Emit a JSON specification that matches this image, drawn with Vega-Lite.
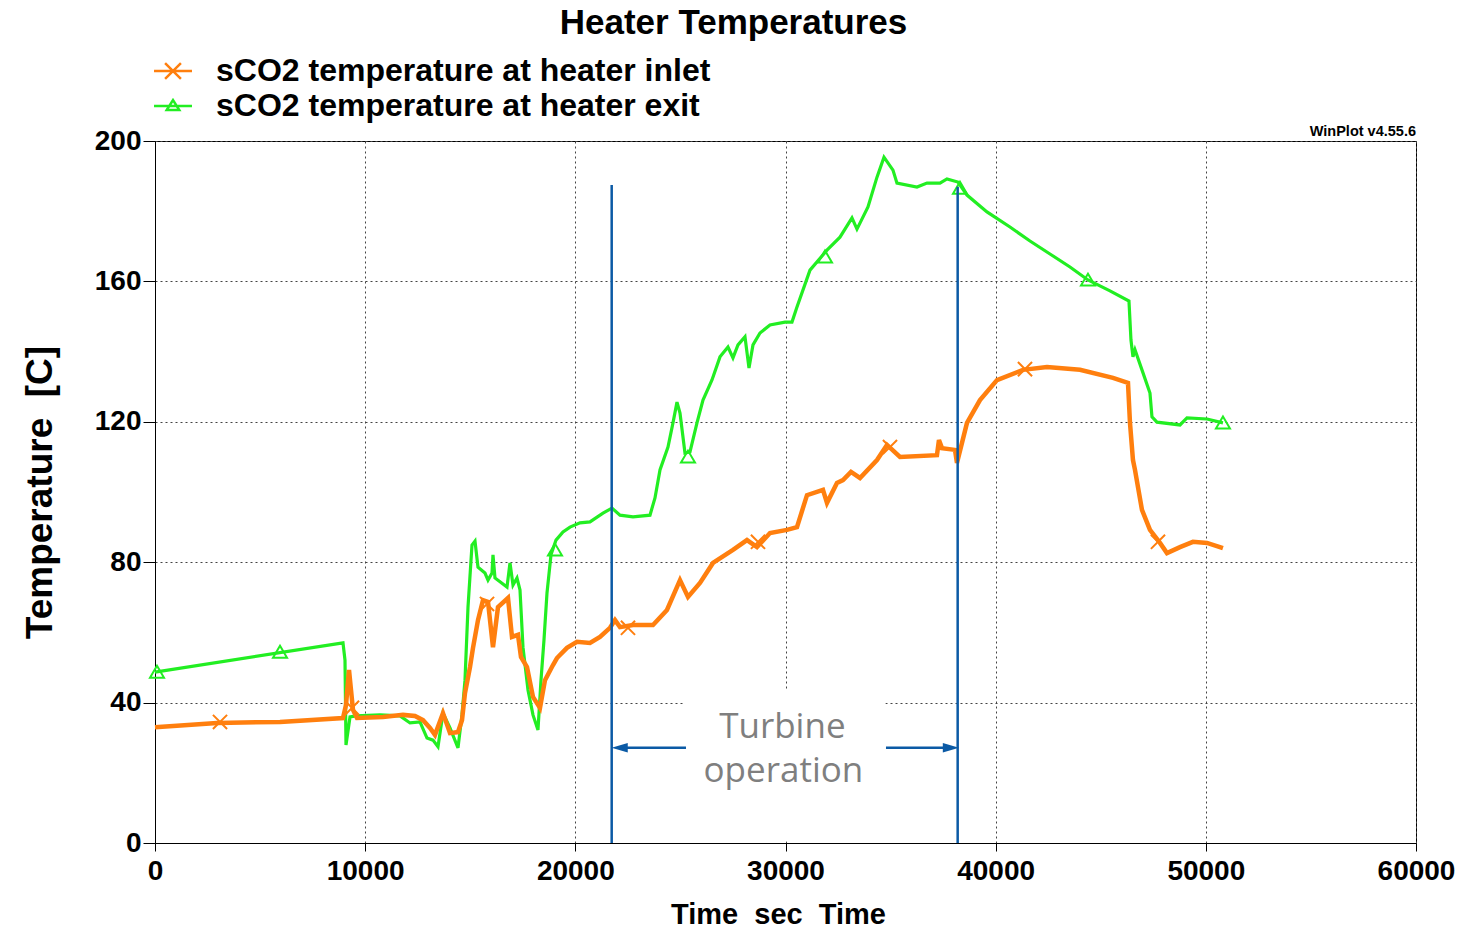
{
"$schema": "https://vega.github.io/schema/vega-lite/v6.json",
"width": 1261, "height": 702,
"autosize": {"type": "none"},
"padding": {"left": 155, "top": 141, "right": 67, "bottom": 85},
"background": "white",
"title": {"text": "Heater Temperatures", "font": "Liberation Sans", "fontSize": 35, "fontWeight": "bold", "color": "black", "anchor": "middle", "frame": "group", "dx": -52, "dy": -8},
"datasets": {
"temps": [
{"s":"sCO2 temperature at heater exit","t":0,"v":48.7},{"s":"sCO2 temperature at heater exit","t":8945,"v":57.0},{"s":"sCO2 temperature at heater exit","t":9040,"v":52.1},{"s":"sCO2 temperature at heater exit","t":9088,"v":27.9},{"s":"sCO2 temperature at heater exit","t":9278,"v":35.9},{"s":"sCO2 temperature at heater exit","t":9564,"v":36.2},{"s":"sCO2 temperature at heater exit","t":10706,"v":36.5},{"s":"sCO2 temperature at heater exit","t":11657,"v":36.2},{"s":"sCO2 temperature at heater exit","t":12133,"v":34.2},{"s":"sCO2 temperature at heater exit","t":12609,"v":34.5},{"s":"sCO2 temperature at heater exit","t":12942,"v":29.9},{"s":"sCO2 temperature at heater exit","t":13227,"v":29.3},{"s":"sCO2 temperature at heater exit","t":13465,"v":27.4},{"s":"sCO2 temperature at heater exit","t":13703,"v":37.0},{"s":"sCO2 temperature at heater exit","t":14036,"v":32.8},{"s":"sCO2 temperature at heater exit","t":14417,"v":27.1},{"s":"sCO2 temperature at heater exit","t":14607,"v":36.5},{"s":"sCO2 temperature at heater exit","t":14750,"v":46.4},{"s":"sCO2 temperature at heater exit","t":14893,"v":67.2},{"s":"sCO2 temperature at heater exit","t":15083,"v":84.9},{"s":"sCO2 temperature at heater exit","t":15226,"v":86.0},{"s":"sCO2 temperature at heater exit","t":15368,"v":78.6},{"s":"sCO2 temperature at heater exit","t":15701,"v":76.9},{"s":"sCO2 temperature at heater exit","t":15845,"v":74.9},{"s":"sCO2 temperature at heater exit","t":16035,"v":76.9},{"s":"sCO2 temperature at heater exit","t":16082,"v":82.1},{"s":"sCO2 temperature at heater exit","t":16177,"v":75.5},{"s":"sCO2 temperature at heater exit","t":16748,"v":72.9},{"s":"sCO2 temperature at heater exit","t":16891,"v":79.8},{"s":"sCO2 temperature at heater exit","t":17034,"v":73.5},{"s":"sCO2 temperature at heater exit","t":17224,"v":75.5},{"s":"sCO2 temperature at heater exit","t":17367,"v":72.1},{"s":"sCO2 temperature at heater exit","t":17509,"v":55.8},{"s":"sCO2 temperature at heater exit","t":17747,"v":43.6},{"s":"sCO2 temperature at heater exit","t":17985,"v":36.5},{"s":"sCO2 temperature at heater exit","t":18223,"v":32.2},{"s":"sCO2 temperature at heater exit","t":18366,"v":46.4},{"s":"sCO2 temperature at heater exit","t":18508,"v":57.8},{"s":"sCO2 temperature at heater exit","t":18651,"v":71.2},{"s":"sCO2 temperature at heater exit","t":18842,"v":82.1},{"s":"sCO2 temperature at heater exit","t":19080,"v":86.3},{"s":"sCO2 temperature at heater exit","t":19413,"v":88.6},{"s":"sCO2 temperature at heater exit","t":19746,"v":90.0},{"s":"sCO2 temperature at heater exit","t":20222,"v":91.2},{"s":"sCO2 temperature at heater exit","t":20697,"v":91.5},{"s":"sCO2 temperature at heater exit","t":21316,"v":94.0},{"s":"sCO2 temperature at heater exit","t":21744,"v":95.4},{"s":"sCO2 temperature at heater exit","t":22125,"v":93.4},{"s":"sCO2 temperature at heater exit","t":22743,"v":92.9},{"s":"sCO2 temperature at heater exit","t":23552,"v":93.4},{"s":"sCO2 temperature at heater exit","t":23790,"v":98.3},{"s":"sCO2 temperature at heater exit","t":24028,"v":106.3},{"s":"sCO2 temperature at heater exit","t":24409,"v":112.8},{"s":"sCO2 temperature at heater exit","t":24646,"v":119.7},{"s":"sCO2 temperature at heater exit","t":24837,"v":125.6},{"s":"sCO2 temperature at heater exit","t":24980,"v":122.5},{"s":"sCO2 temperature at heater exit","t":25217,"v":111.1},{"s":"sCO2 temperature at heater exit","t":25455,"v":111.4},{"s":"sCO2 temperature at heater exit","t":25788,"v":119.7},{"s":"sCO2 temperature at heater exit","t":26074,"v":126.2},{"s":"sCO2 temperature at heater exit","t":26502,"v":131.9},{"s":"sCO2 temperature at heater exit","t":26883,"v":138.5},{"s":"sCO2 temperature at heater exit","t":27263,"v":141.3},{"s":"sCO2 temperature at heater exit","t":27501,"v":138.2},{"s":"sCO2 temperature at heater exit","t":27739,"v":141.9},{"s":"sCO2 temperature at heater exit","t":28072,"v":144.2},{"s":"sCO2 temperature at heater exit","t":28263,"v":135.3},{"s":"sCO2 temperature at heater exit","t":28453,"v":141.9},{"s":"sCO2 temperature at heater exit","t":28786,"v":145.3},{"s":"sCO2 temperature at heater exit","t":29262,"v":147.6},{"s":"sCO2 temperature at heater exit","t":29975,"v":148.4},{"s":"sCO2 temperature at heater exit","t":30308,"v":148.4},{"s":"sCO2 temperature at heater exit","t":30546,"v":152.7},{"s":"sCO2 temperature at heater exit","t":31165,"v":163.2},{"s":"sCO2 temperature at heater exit","t":31974,"v":168.9},{"s":"sCO2 temperature at heater exit","t":32592,"v":172.6},{"s":"sCO2 temperature at heater exit","t":33163,"v":178.1},{"s":"sCO2 temperature at heater exit","t":33401,"v":174.9},{"s":"sCO2 temperature at heater exit","t":33925,"v":181.2},{"s":"sCO2 temperature at heater exit","t":34353,"v":189.7},{"s":"sCO2 temperature at heater exit","t":34686,"v":195.4},{"s":"sCO2 temperature at heater exit","t":35114,"v":191.7},{"s":"sCO2 temperature at heater exit","t":35304,"v":188.0},{"s":"sCO2 temperature at heater exit","t":36256,"v":186.9},{"s":"sCO2 temperature at heater exit","t":36732,"v":188.0},{"s":"sCO2 temperature at heater exit","t":37350,"v":188.0},{"s":"sCO2 temperature at heater exit","t":37683,"v":189.2},{"s":"sCO2 temperature at heater exit","t":38207,"v":188.3},{"s":"sCO2 temperature at heater exit","t":38635,"v":184.6},{"s":"sCO2 temperature at heater exit","t":39587,"v":179.8},{"s":"sCO2 temperature at heater exit","t":40681,"v":175.5},{"s":"sCO2 temperature at heater exit","t":41633,"v":171.5},{"s":"sCO2 temperature at heater exit","t":42584,"v":167.8},{"s":"sCO2 temperature at heater exit","t":43536,"v":164.1},{"s":"sCO2 temperature at heater exit","t":44392,"v":160.4},{"s":"sCO2 temperature at heater exit","t":45439,"v":157.3},{"s":"sCO2 temperature at heater exit","t":46343,"v":154.4},{"s":"sCO2 temperature at heater exit","t":46438,"v":143.3},{"s":"sCO2 temperature at heater exit","t":46533,"v":138.5},{"s":"sCO2 temperature at heater exit","t":46629,"v":140.5},{"s":"sCO2 temperature at heater exit","t":46961,"v":134.8},{"s":"sCO2 temperature at heater exit","t":47342,"v":128.2},{"s":"sCO2 temperature at heater exit","t":47437,"v":121.4},{"s":"sCO2 temperature at heater exit","t":47675,"v":119.9},{"s":"sCO2 temperature at heater exit","t":48770,"v":119.1},{"s":"sCO2 temperature at heater exit","t":49103,"v":121.1},{"s":"sCO2 temperature at heater exit","t":50055,"v":120.8},{"s":"sCO2 temperature at heater exit","t":50815,"v":119.7},
{"s":"sCO2 temperature at heater inlet","t":0,"v":33.0},{"s":"sCO2 temperature at heater inlet","t":2950,"v":34.2},{"s":"sCO2 temperature at heater inlet","t":5948,"v":34.5},{"s":"sCO2 temperature at heater inlet","t":8945,"v":35.6},{"s":"sCO2 temperature at heater inlet","t":9088,"v":39.3},{"s":"sCO2 temperature at heater inlet","t":9231,"v":49.3},{"s":"sCO2 temperature at heater inlet","t":9326,"v":43.6},{"s":"sCO2 temperature at heater inlet","t":9421,"v":37.9},{"s":"sCO2 temperature at heater inlet","t":9611,"v":35.6},{"s":"sCO2 temperature at heater inlet","t":10848,"v":35.9},{"s":"sCO2 temperature at heater inlet","t":11800,"v":36.5},{"s":"sCO2 temperature at heater inlet","t":12371,"v":36.2},{"s":"sCO2 temperature at heater inlet","t":12751,"v":35.0},{"s":"sCO2 temperature at heater inlet","t":13085,"v":32.8},{"s":"sCO2 temperature at heater inlet","t":13322,"v":30.8},{"s":"sCO2 temperature at heater inlet","t":13703,"v":37.0},{"s":"sCO2 temperature at heater inlet","t":14036,"v":31.3},{"s":"sCO2 temperature at heater inlet","t":14417,"v":31.6},{"s":"sCO2 temperature at heater inlet","t":14607,"v":35.0},{"s":"sCO2 temperature at heater inlet","t":14750,"v":42.7},{"s":"sCO2 temperature at heater inlet","t":14988,"v":50.1},{"s":"sCO2 temperature at heater inlet","t":15131,"v":55.6},{"s":"sCO2 temperature at heater inlet","t":15368,"v":63.5},{"s":"sCO2 temperature at heater inlet","t":15606,"v":69.2},{"s":"sCO2 temperature at heater inlet","t":15845,"v":68.7},{"s":"sCO2 temperature at heater inlet","t":16082,"v":55.8},{"s":"sCO2 temperature at heater inlet","t":16320,"v":67.2},{"s":"sCO2 temperature at heater inlet","t":16796,"v":69.8},{"s":"sCO2 temperature at heater inlet","t":16986,"v":58.7},{"s":"sCO2 temperature at heater inlet","t":17272,"v":59.3},{"s":"sCO2 temperature at heater inlet","t":17414,"v":53.0},{"s":"sCO2 temperature at heater inlet","t":17700,"v":50.1},{"s":"sCO2 temperature at heater inlet","t":17985,"v":41.6},{"s":"sCO2 temperature at heater inlet","t":18318,"v":38.5},{"s":"sCO2 temperature at heater inlet","t":18556,"v":46.4},{"s":"sCO2 temperature at heater inlet","t":18937,"v":50.7},{"s":"sCO2 temperature at heater inlet","t":19127,"v":52.7},{"s":"sCO2 temperature at heater inlet","t":19603,"v":55.6},{"s":"sCO2 temperature at heater inlet","t":20079,"v":57.3},{"s":"sCO2 temperature at heater inlet","t":20697,"v":57.0},{"s":"sCO2 temperature at heater inlet","t":21173,"v":58.7},{"s":"sCO2 temperature at heater inlet","t":21649,"v":61.3},{"s":"sCO2 temperature at heater inlet","t":21887,"v":63.5},{"s":"sCO2 temperature at heater inlet","t":22125,"v":61.5},{"s":"sCO2 temperature at heater inlet","t":22743,"v":62.1},{"s":"sCO2 temperature at heater inlet","t":23695,"v":62.1},{"s":"sCO2 temperature at heater inlet","t":24361,"v":66.4},{"s":"sCO2 temperature at heater inlet","t":24980,"v":74.9},{"s":"sCO2 temperature at heater inlet","t":25360,"v":70.1},{"s":"sCO2 temperature at heater inlet","t":25931,"v":74.1},{"s":"sCO2 temperature at heater inlet","t":26550,"v":79.8},{"s":"sCO2 temperature at heater inlet","t":27501,"v":83.5},{"s":"sCO2 temperature at heater inlet","t":28167,"v":86.3},{"s":"sCO2 temperature at heater inlet","t":28643,"v":84.3},{"s":"sCO2 temperature at heater inlet","t":29262,"v":88.3},{"s":"sCO2 temperature at heater inlet","t":30071,"v":89.2},{"s":"sCO2 temperature at heater inlet","t":30546,"v":90.0},{"s":"sCO2 temperature at heater inlet","t":31022,"v":99.1},{"s":"sCO2 temperature at heater inlet","t":31783,"v":100.6},{"s":"sCO2 temperature at heater inlet","t":31974,"v":96.9},{"s":"sCO2 temperature at heater inlet","t":32450,"v":102.6},{"s":"sCO2 temperature at heater inlet","t":32735,"v":103.4},{"s":"sCO2 temperature at heater inlet","t":33116,"v":105.7},{"s":"sCO2 temperature at heater inlet","t":33544,"v":104.0},{"s":"sCO2 temperature at heater inlet","t":34353,"v":109.1},{"s":"sCO2 temperature at heater inlet","t":34829,"v":113.4},{"s":"sCO2 temperature at heater inlet","t":35447,"v":110.0},{"s":"sCO2 temperature at heater inlet","t":37207,"v":110.5},{"s":"sCO2 temperature at heater inlet","t":37302,"v":114.8},{"s":"sCO2 temperature at heater inlet","t":37445,"v":112.5},{"s":"sCO2 temperature at heater inlet","t":38064,"v":112.0},{"s":"sCO2 temperature at heater inlet","t":38159,"v":108.3},{"s":"sCO2 temperature at heater inlet","t":38635,"v":119.7},{"s":"sCO2 temperature at heater inlet","t":39254,"v":126.2},{"s":"sCO2 temperature at heater inlet","t":40062,"v":131.9},{"s":"sCO2 temperature at heater inlet","t":41299,"v":134.8},{"s":"sCO2 temperature at heater inlet","t":42441,"v":135.6},{"s":"sCO2 temperature at heater inlet","t":44012,"v":134.8},{"s":"sCO2 temperature at heater inlet","t":45582,"v":132.5},{"s":"sCO2 temperature at heater inlet","t":46296,"v":131.1},{"s":"sCO2 temperature at heater inlet","t":46391,"v":119.7},{"s":"sCO2 temperature at heater inlet","t":46533,"v":109.1},{"s":"sCO2 temperature at heater inlet","t":46629,"v":106.3},{"s":"sCO2 temperature at heater inlet","t":46961,"v":94.9},{"s":"sCO2 temperature at heater inlet","t":47342,"v":89.2},{"s":"sCO2 temperature at heater inlet","t":47818,"v":85.5},{"s":"sCO2 temperature at heater inlet","t":48151,"v":82.6},{"s":"sCO2 temperature at heater inlet","t":48770,"v":84.3},{"s":"sCO2 temperature at heater inlet","t":49388,"v":85.8},{"s":"sCO2 temperature at heater inlet","t":50055,"v":85.5},{"s":"sCO2 temperature at heater inlet","t":50815,"v":84.0}
],
"markers": [
{"s":"sCO2 temperature at heater exit","t":95,"v":48.7},{"s":"sCO2 temperature at heater exit","t":5948,"v":54.4},{"s":"sCO2 temperature at heater exit","t":19032,"v":83.5},{"s":"sCO2 temperature at heater exit","t":25360,"v":110.0},{"s":"sCO2 temperature at heater exit","t":31879,"v":167.0},{"s":"sCO2 temperature at heater exit","t":38302,"v":186.6},{"s":"sCO2 temperature at heater exit","t":44392,"v":160.4},{"s":"sCO2 temperature at heater exit","t":50815,"v":119.7},
{"s":"sCO2 temperature at heater inlet","t":3093,"v":34.5},{"s":"sCO2 temperature at heater inlet","t":9373,"v":38.5},{"s":"sCO2 temperature at heater inlet","t":15797,"v":68.1},{"s":"sCO2 temperature at heater inlet","t":22505,"v":61.3},{"s":"sCO2 temperature at heater inlet","t":28691,"v":85.8},{"s":"sCO2 temperature at heater inlet","t":34971,"v":112.8},{"s":"sCO2 temperature at heater inlet","t":41395,"v":135.0},{"s":"sCO2 temperature at heater inlet","t":47723,"v":85.8}
]
},
"layer": [
{"data": {"values": [{"t":25200,"t2":34750,"v":0.5,"v2":43.5}]},
 "mark": {"type": "rect", "color": "white"},
 "encoding": {"x": {"field":"t","type":"quantitative"}, "x2": {"field":"t2"}, "y": {"field":"v","type":"quantitative"}, "y2": {"field":"v2"}}},
{"data": {"name": "temps"},
 "transform": [{"filter": "datum.s === 'sCO2 temperature at heater exit'"}],
 "mark": {"type": "line", "strokeWidth": 3.2},
 "encoding": {
  "x": {"field":"t","type":"quantitative","scale":{"domain":[0,60000],"nice":false,"zero":false},
        "axis":{"values":[0,10000,20000,30000,40000,50000,60000],"format":"d","title":"Time\u00a0\u00a0sec\u00a0\u00a0Time","titleFontSize":29,"tickSize":8,"labelPadding":6,"titlePadding":15,"titleX":623,"labelFlush":false}},
  "y": {"field":"v","type":"quantitative","scale":{"domain":[0,200],"nice":false},
        "axis":{"values":[0,40,80,120,160,200],"title":"Temperature\u00a0\u00a0[C]","titleFontSize":37,"tickSize":12,"labelPadding":2,"titlePadding":35}},
  "color": {"field":"s","type":"nominal",
    "scale":{"domain":["sCO2 temperature at heater inlet","sCO2 temperature at heater exit"],"range":["#ff7f0e","#22ee22"]},
    "legend":{"orient":"none","legendX":0,"legendY":-88,"title":null,"labelFont":"Liberation Sans","labelFontWeight":"bold","labelFontSize":32,"labelColor":"black","labelLimit":1000,"symbolSize":1089,"symbolStrokeWidth":2.5,"labelOffset":25,"rowPadding":1,"padding":0,
      "encode":{"symbols":{"update":{"shape":{"signal":"datum.value === 'sCO2 temperature at heater inlet' ? 'M-1.15,0H1.15M-0.48,-0.48L0.48,0.48M-0.48,0.48L0.48,-0.48' : 'M-1.15,0H1.15M-0.38,0.24L0,-0.36L0.38,0.24Z'"},"fill":{"value":"transparent"}}}}}}
 }},
{"data": {"name": "temps"},
 "transform": [{"filter": "datum.s === 'sCO2 temperature at heater inlet'"}],
 "mark": {"type": "line", "strokeWidth": 4.5},
 "encoding": {"x": {"field":"t","type":"quantitative"}, "y": {"field":"v","type":"quantitative"}, "color": {"field":"s","type":"nominal"}}},
{"data": {"name": "markers"},
 "transform": [{"filter": "datum.s === 'sCO2 temperature at heater exit'"}],
 "mark": {"type": "point", "filled": false, "strokeWidth": 2, "size": 196, "opacity": 1, "shape": "M-1,0.8L0,-0.9L1,0.8Z"},
 "encoding": {"x": {"field":"t","type":"quantitative"}, "y": {"field":"v","type":"quantitative"}, "color": {"field":"s","type":"nominal"}}},
{"data": {"name": "markers"},
 "transform": [{"filter": "datum.s === 'sCO2 temperature at heater inlet'"}],
 "mark": {"type": "point", "filled": false, "strokeWidth": 2, "size": 200, "opacity": 1, "shape": "M-1,-1L1,1M-1,1L1,-1"},
 "encoding": {"x": {"field":"t","type":"quantitative"}, "y": {"field":"v","type":"quantitative"}, "color": {"field":"s","type":"nominal"}}},
{"data": {"values": [{"t":21730,"v":0,"v2":187.5},{"t":38192,"v":0,"v2":187}]},
 "mark": {"type": "rule", "color": "#0b5aa5", "strokeWidth": 2.5},
 "encoding": {"x": {"field":"t","type":"quantitative"}, "y": {"field":"v","type":"quantitative"}, "y2": {"field":"v2"}}},
{"data": {"values": [{"t":22200,"t2":25265,"v":27.15},{"t":34781,"t2":37800,"v":27.15}]},
 "mark": {"type": "rule", "color": "#0b5aa5", "strokeWidth": 2.5},
 "encoding": {"x": {"field":"t","type":"quantitative"}, "x2": {"field":"t2"}, "y": {"field":"v","type":"quantitative"}}},
{"data": {"values": [{"t":22130,"v":27.15}]},
 "mark": {"type": "point", "filled": true, "size": 290, "color": "#0b5aa5", "opacity": 1, "shape": "M-1,0L0.9,-0.55L0.9,0.55Z"},
 "encoding": {"x": {"field":"t","type":"quantitative"}, "y": {"field":"v","type":"quantitative"}}},
{"data": {"values": [{"t":37850,"v":27.15}]},
 "mark": {"type": "point", "filled": true, "size": 290, "color": "#0b5aa5", "opacity": 1, "shape": "M1,0L-0.9,-0.55L-0.9,0.55Z"},
 "encoding": {"x": {"field":"t","type":"quantitative"}, "y": {"field":"v","type":"quantitative"}}},
{"data": {"values": [{"t":29850,"v":33.0,"label":"Turbine"},{"t":29900,"v":20.5,"label":"operation"}]},
 "mark": {"type": "text", "font": "Open Sans", "fontSize": 35, "color": "#7f7f7f", "baseline": "middle", "align": "center"},
 "encoding": {"x": {"field":"t","type":"quantitative"}, "y": {"field":"v","type":"quantitative"}, "text": {"field":"label"}}},
{"data": {"values": [{"t":60000,"v":200,"label":"WinPlot v4.55.6"}]},
 "mark": {"type": "text", "font": "Liberation Sans", "fontWeight": "bold", "fontSize": 14.5, "color": "black", "baseline": "bottom", "align": "right", "dy": -2},
 "encoding": {"x": {"field":"t","type":"quantitative"}, "y": {"field":"v","type":"quantitative"}, "text": {"field":"label"}}}
],
"config": {
 "view": {"stroke": "black", "strokeWidth": 1},
 "axis": {"labelFont": "Liberation Sans", "labelFontWeight": "bold", "labelFontSize": 28, "labelColor": "black", "titleFont": "Liberation Sans", "titleFontWeight": "bold", "titleColor": "black", "domainColor": "black", "tickColor": "black", "gridColor": "#444444", "gridDash": [2, 3], "gridWidth": 1, "labelOverlap": false}
}
}
